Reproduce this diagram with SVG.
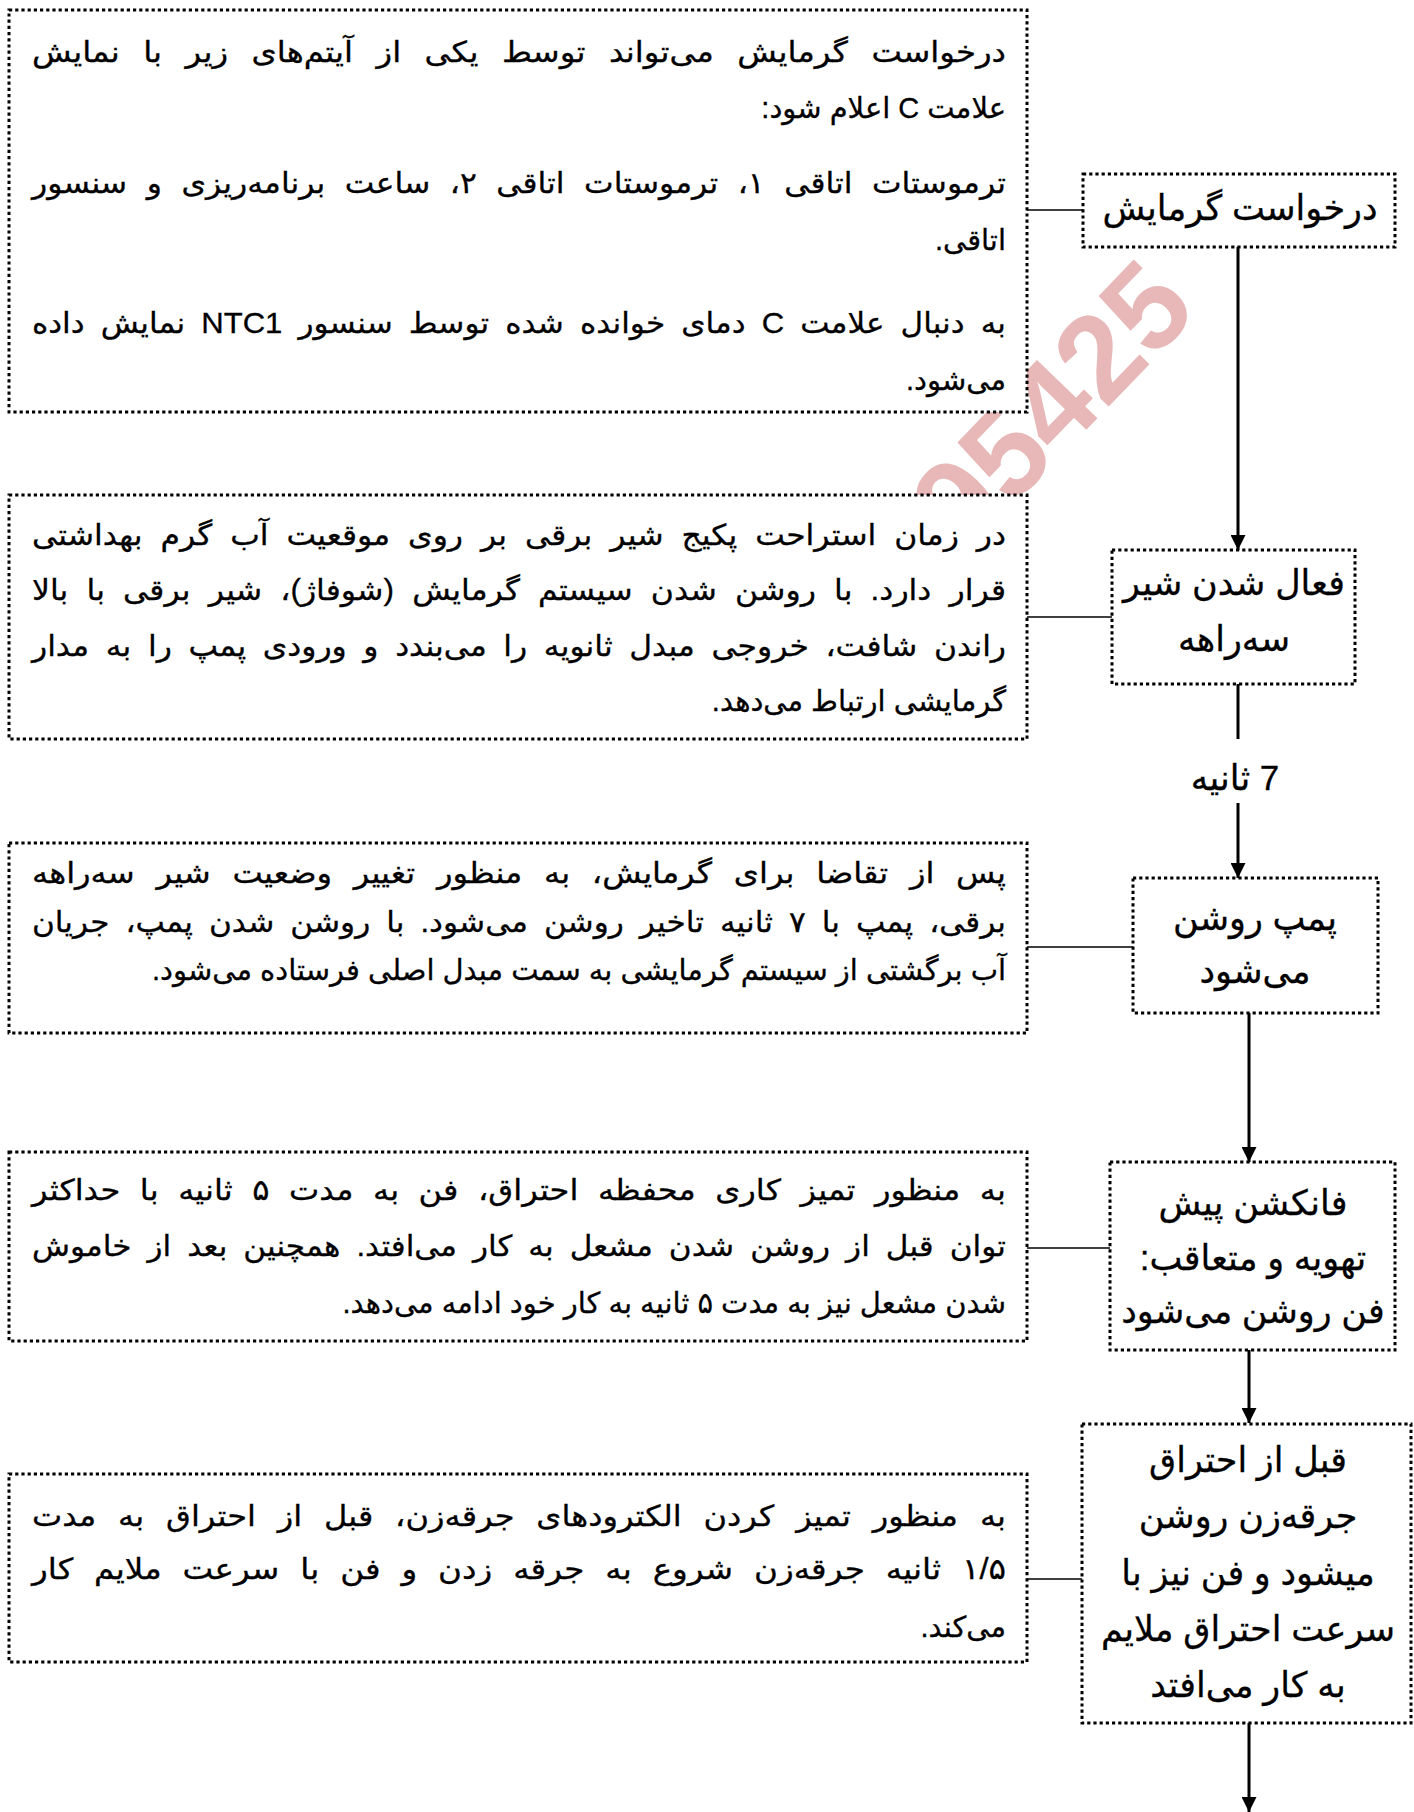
<svg xmlns="http://www.w3.org/2000/svg" width="1414" height="1812" viewBox="0 0 1414 1812">
<style>
.bg{fill:#fff}
.box{fill:#fff;stroke:#000;stroke-width:3;stroke-dasharray:3.2 3}
.t{font-family:"Liberation Sans","DejaVu Sans",sans-serif;font-size:29px;fill:#000;stroke:#000;stroke-width:0.3;direction:rtl;text-anchor:start}
.n{font-family:"Liberation Sans","DejaVu Sans",sans-serif;font-size:35px;fill:#000;stroke:#000;stroke-width:0.3;direction:rtl;text-anchor:middle}
.c{stroke:#000;stroke-width:1.5;fill:none}
.v{stroke:#000;stroke-width:3;fill:none}
.wm{font-family:"Liberation Sans",sans-serif;font-size:122px;font-weight:bold;fill:#e8b7b7;text-anchor:end}
</style>
<defs>
<marker id="arr" viewBox="0 0 15 15" refX="15" refY="7.5" markerWidth="15" markerHeight="15" markerUnits="userSpaceOnUse" orient="auto">
<path d="M0,0 L15,7.5 L0,15 z" fill="#000"/>
</marker>
</defs>
<rect class="bg" x="0" y="0" width="1414" height="1812"/>
<text class="wm" x="1200" y="312" transform="rotate(-46 1200 312)">95425</text>
<g id="connectors">
<line class="c" x1="1027" y1="210" x2="1083" y2="210"/>
<line class="c" x1="1027" y1="617" x2="1112" y2="617"/>
<line class="c" x1="1027" y1="947" x2="1133" y2="947"/>
<line class="c" x1="1027" y1="1248" x2="1110" y2="1248"/>
<line class="c" x1="1027" y1="1579" x2="1082" y2="1579"/>
<line class="v" x1="1238" y1="247" x2="1238" y2="550" marker-end="url(#arr)"/>
<line class="v" x1="1238" y1="684" x2="1238" y2="739"/>
<line class="v" x1="1238" y1="803" x2="1238" y2="878" marker-end="url(#arr)"/>
<line class="v" x1="1249" y1="1013" x2="1249" y2="1162" marker-end="url(#arr)"/>
<line class="v" x1="1249" y1="1350" x2="1249" y2="1423" marker-end="url(#arr)"/>
<line class="v" x1="1249" y1="1723" x2="1249" y2="1812" marker-end="url(#arr)"/>
</g>
<g id="note1">
<rect class="box" x="9" y="10" width="1018" height="402"/>
<text class="t" x="1006" y="62" style="word-spacing:13px" textLength="974" lengthAdjust="spacingAndGlyphs">درخواست گرمایش می‌تواند توسط یکی از آیتم‌های زیر با نمایش</text>
<text class="t" x="1006" y="118">علامت C اعلام شود:</text>
<text class="t" x="1006" y="193" style="word-spacing:10px" textLength="974" lengthAdjust="spacingAndGlyphs">ترموستات اتاقی ۱، ترموستات اتاقی ۲، ساعت برنامه‌ریزی و سنسور</text>
<text class="t" x="1006" y="250">اتاقی.</text>
<text class="t" x="1006" y="333" style="word-spacing:7px" textLength="974" lengthAdjust="spacingAndGlyphs">به دنبال علامت C دمای خوانده شده توسط سنسور NTC1 نمایش داده</text>
<text class="t" x="1006" y="390">می‌شود.</text>
</g>
<g id="note2">
<rect class="box" x="9" y="495" width="1018" height="244"/>
<text class="t" x="1006" y="545" style="word-spacing:8.5px" textLength="974" lengthAdjust="spacingAndGlyphs">در زمان استراحت پکیج شیر برقی بر روی موقعیت آب گرم بهداشتی</text>
<text class="t" x="1006" y="600" style="word-spacing:8.7px" textLength="974" lengthAdjust="spacingAndGlyphs">قرار دارد. با روشن شدن سیستم گرمایش (شوفاژ)، شیر برقی با بالا</text>
<text class="t" x="1006" y="656" style="word-spacing:7.3px" textLength="974" lengthAdjust="spacingAndGlyphs">راندن شافت، خروجی مبدل ثانویه را می‌بندد و ورودی پمپ را به مدار</text>
<text class="t" x="1006" y="711">گرمایشی ارتباط می‌دهد.</text>
</g>
<g id="note3">
<rect class="box" x="9" y="843" width="1018" height="190"/>
<text class="t" x="1006" y="883" style="word-spacing:11.5px" textLength="974" lengthAdjust="spacingAndGlyphs">پس از تقاضا برای گرمایش، به منظور تغییر وضعیت شیر سه‌راهه</text>
<text class="t" x="1006" y="932" style="word-spacing:6.9px" textLength="974" lengthAdjust="spacingAndGlyphs">برقی، پمپ با ۷ ثانیه تاخیر روشن می‌شود. با روشن شدن پمپ، جریان</text>
<text class="t" x="1006" y="980">آب برگشتی از سیستم گرمایشی به سمت مبدل اصلی فرستاده می‌شود.</text>
</g>
<g id="note4">
<rect class="box" x="9" y="1152" width="1018" height="189"/>
<text class="t" x="1006" y="1200" style="word-spacing:9.6px" textLength="974" lengthAdjust="spacingAndGlyphs">به منظور تمیز کاری محفظه احتراق، فن به مدت ۵ ثانیه با حداکثر</text>
<text class="t" x="1006" y="1256" style="word-spacing:6.9px" textLength="974" lengthAdjust="spacingAndGlyphs">توان قبل از روشن شدن مشعل به کار می‌افتد. همچنین بعد از خاموش</text>
<text class="t" x="1006" y="1313">شدن مشعل نیز به مدت ۵ ثانیه به کار خود ادامه می‌دهد.</text>
</g>
<g id="note5">
<rect class="box" x="9" y="1474" width="1018" height="188"/>
<text class="t" x="1006" y="1526" style="word-spacing:11.7px" textLength="974" lengthAdjust="spacingAndGlyphs">به منظور تمیز کردن الکترودهای جرقه‌زن، قبل از احتراق به مدت</text>
<text class="t" x="1006" y="1579" style="word-spacing:10.6px" textLength="974" lengthAdjust="spacingAndGlyphs">۱/۵ ثانیه جرقه‌زن شروع به جرقه زدن و فن با سرعت ملایم کار</text>
<text class="t" x="1006" y="1637">می‌کند.</text>
</g>
<g id="node1">
<rect class="box" x="1083" y="174" width="312" height="73"/>
<text class="n" x="1240" y="220">درخواست گرمایش</text>
</g>
<g id="node2">
<rect class="box" x="1112" y="550" width="243" height="134"/>
<text class="n" x="1234" y="595">فعال شدن شیر</text>
<text class="n" x="1234" y="651">سه‌راهه</text>
</g>
<g id="label7">
<text class="n" x="1235" y="790">7 ثانیه</text>
</g>
<g id="node3">
<rect class="box" x="1133" y="878" width="245" height="135"/>
<text class="n" x="1255" y="930">پمپ روشن</text>
<text class="n" x="1255" y="983">می‌شود</text>
</g>
<g id="node4">
<rect class="box" x="1110" y="1162" width="285" height="188"/>
<text class="n" x="1253" y="1215">فانکشن پیش</text>
<text class="n" x="1253" y="1270">تهویه و متعاقب:</text>
<text class="n" x="1253" y="1323">فن روشن می‌شود</text>
</g>
<g id="node5">
<rect class="box" x="1082" y="1424" width="329" height="299"/>
<text class="n" x="1248" y="1472">قبل از احتراق</text>
<text class="n" x="1248" y="1528">جرقه‌زن روشن</text>
<text class="n" x="1248" y="1585">میشود و فن نیز با</text>
<text class="n" x="1248" y="1641">سرعت احتراق ملایم</text>
<text class="n" x="1248" y="1697">به کار می‌افتد</text>
</g>
</svg>
